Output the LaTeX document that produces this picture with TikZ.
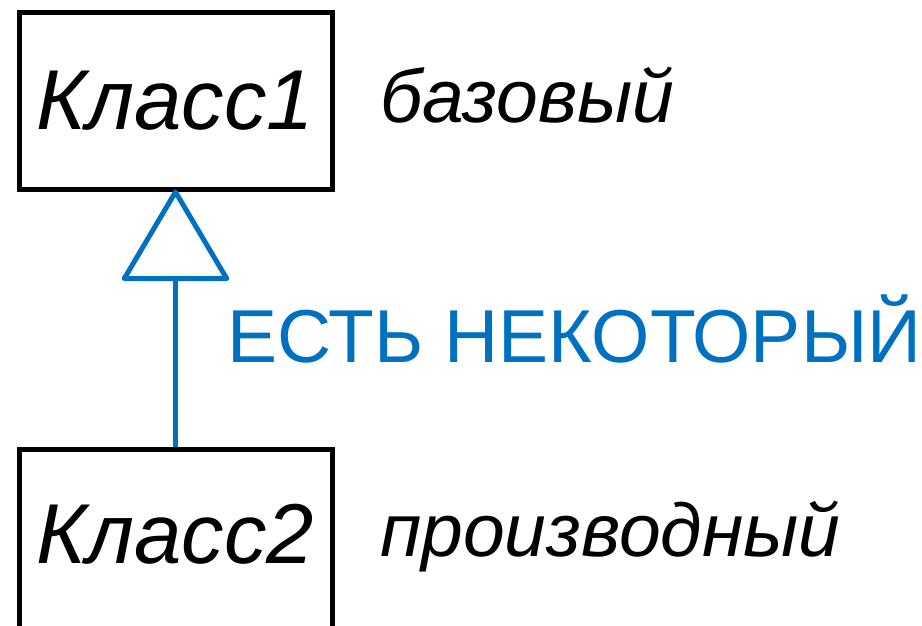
\documentclass[tikz,border=0pt]{standalone}
\usepackage{fontspec}
\setmainfont{Liberation Sans}
\usetikzlibrary{arrows.meta}
\definecolor{linkblue}{RGB}{0,112,192}
\tikzset{
  x=1pt, y=1pt,
  classbox/.style={draw=black, line width=5pt, rectangle, minimum width=313pt,
    inner sep=0pt, fill=none},
  classname/.style={font=\fontsize{85}{90}\selectfont\itshape, inner sep=0pt},
  rolenote/.style={font=\fontsize{75}{80}\selectfont\itshape, inner sep=0pt, anchor=base west},
  inherit/.style={draw=linkblue, line width=5pt, line join=round,
    -{Triangle[open, length=94pt, width=110pt, line join=round]}},
  relnote/.style={font=\fontsize{75}{80}\selectfont, text=linkblue, inner sep=0pt, anchor=base west}
}
\begin{document}
\begin{tikzpicture}
  \useasboundingbox (0,0) rectangle (922,-625);
  % base class
  \node[classbox, minimum height=176.5pt] (c1) at (175.5,-100.75) {};
  \node[classname] (n1) at (c1.center) {Класс1};
  % derived class, running past the lower edge
  \node[classbox, minimum height=230pt, anchor=north] (c2) at (175.5,-447) {};
  \node[classname] (n2) at (175.5,-534) {Класс2};
  % generalisation arrow
  \draw[inherit] (c2.north) -- ([yshift=2pt]c1.south);
  % annotations
  \node[rolenote] (r1) at (380,-122) {базовый};
  \node[rolenote] (r2) at (380,-556) {производный};
  \node[relnote] (rel) at (227,-362) {ЕСТЬ НЕКОТОРЫЙ};
\end{tikzpicture}
\end{document}
